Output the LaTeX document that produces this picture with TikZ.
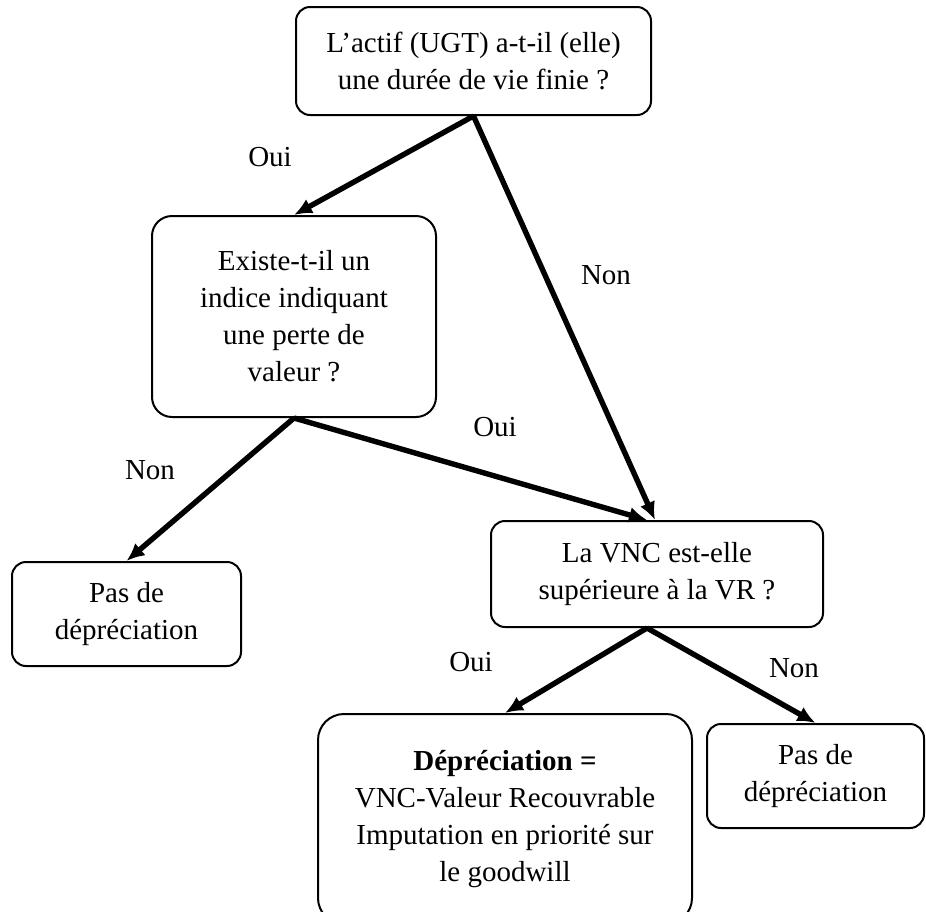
\documentclass[tikz,border=0pt]{standalone}
\usepackage{fontspec}
\setmainfont{Liberation Serif}
\usetikzlibrary{arrows.meta,positioning}
\tikzset{>={Latex[length=9pt,width=8pt]}}

\begin{document}
\begin{tikzpicture}[x=0.5pt, y=-0.5pt,
                    mybox/.style={draw, line width=1pt, rounded corners=7pt, align=center, inner sep=0pt, font=\fontsize{14.5}{18.5}\selectfont},
                    myarrow/.style={line width=2.7pt, ->},
                    mylabel/.style={font=\fontsize{14.5}{18.5}\selectfont},
                   ]

\useasboundingbox (0,0) rectangle (926,911);

\node[mybox, minimum width=177.5pt, minimum height=54pt] (actif) at (473.5,61) {L'actif (UGT) a-t-il (elle)\\une durée de vie finie ?};
\node[mybox, rounded corners=10pt, minimum width=142pt, minimum height=100.5pt] (indice) at (294,316.5) {Existe-t-il un\\indice indiquant\\une perte de\\valeur ?};
\node[mybox, minimum width=114.5pt, minimum height=52pt] (pasgauche) at (126.5,614) {Pas de\\dépréciation};
\node[mybox, minimum width=166pt, minimum height=53pt] (vnc) at (657,574) {La VNC est-elle\\supérieure à la VR ?};
\node[mybox, rounded corners=13pt, minimum width=187pt, minimum height=105pt] (depr) at (505,819) {\textbf{Dépréciation =}\\VNC-Valeur Recouvrable\\Imputation en priorité sur\\le goodwill};
\node[mybox, minimum width=108.5pt, minimum height=52pt] (pasdroite) at (815.5,776) {Pas de\\dépréciation};

\draw[myarrow] (actif.south) -- (indice.north);
\draw[myarrow] (actif.south) -- ([xshift=-1pt]vnc.north);
\draw[myarrow] (indice.south) -- (pasgauche.north);
\draw[myarrow] (indice.south) -- ([xshift=-5pt]vnc.north);
\draw[myarrow] ([xshift=-5pt]vnc.south) -- (depr.north);
\draw[myarrow] ([xshift=-5pt]vnc.south) -- (pasdroite.north);

\node[mylabel] (oui1) at (270,157) {Oui};
\node[mylabel] (non1) at (606,275) {Non};
\node[mylabel] (non2) at (150,470) {Non};
\node[mylabel] (oui2) at (495,427) {Oui};
\node[mylabel] (oui3) at (471,662) {Oui};
\node[mylabel] (non3) at (794,668) {Non};

\end{tikzpicture}
\end{document}
